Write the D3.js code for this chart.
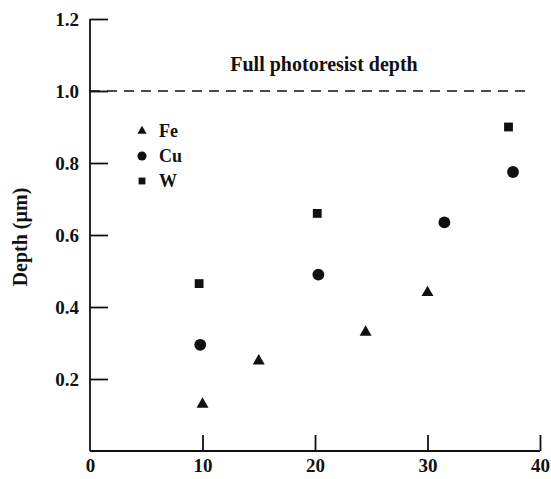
<!DOCTYPE html>
<html>
<head>
<meta charset="utf-8">
<script src="https://cdn.jsdelivr.net/npm/d3@7"></script>
<style>
  body { margin: 0; background: #fff; }
  text { font-family: "Liberation Serif", "DejaVu Serif", serif; font-weight: bold; fill: #111; }
</style>
</head>
<body>
<svg id="plot" width="551" height="479"></svg>
<script>
// data
var xTicks = [10, 20, 30, 40];
var yTicks = [0.2, 0.4, 0.6, 0.8, 1.0, 1.2];
var feX = [10, 15, 24.5, 30],   feY = [0.13, 0.25, 0.33, 0.44];
var cuX = [9.8, 20.3, 31.5, 37.6], cuY = [0.295, 0.49, 0.635, 0.775];
var wX  = [9.7, 20.2, 37.2],     wY  = [0.465, 0.66, 0.9];
var series = [
  {name: "Fe", sym: d3.symbolTriangle, size: 62, xs: feX, ys: feY},
  {name: "Cu", sym: d3.symbolCircle, size: 110, xs: cuX, ys: cuY},
  {name: "W",  sym: d3.symbolSquare, size: 78, xs: wX,  ys: wY}
];
var fullDepth = 1.0;

var svg = d3.select("#plot"),
    margin = {top: 19, right: 11, bottom: 28, left: 90},
    width = 551 - margin.left - margin.right,
    height = 479 - margin.top - margin.bottom,
    g = svg.append("g").attr("transform", "translate(" + margin.left + "," + margin.top + ")");

var x = d3.scaleLinear().domain([0, 40]).range([0, width]);
var y = d3.scaleLinear().domain([0, 1.2]).range([height, 0]);

// x axis, ticks pointing up into the plot
var xAxis = g.append("g")
  .attr("transform", "translate(0," + height + ")")
  .call(d3.axisBottom(x).tickValues([0].concat(xTicks)).tickSize(-16).tickPadding(5).tickFormat(d3.format("d")));
xAxis.selectAll("text").attr("dy", "0.85em").style("font-size", "19px");

// y axis, ticks pointing right
var yAxis = g.append("g")
  .call(d3.axisLeft(y).tickValues(yTicks).tickSize(-18).tickPadding(11).tickFormat(d3.format(".1f")));
yAxis.selectAll("text").style("font-size", "19px");

svg.selectAll(".domain, .tick line").attr("stroke", "#111").attr("stroke-width", 1.8);
xAxis.select(".domain").attr("d", "M0,0H" + width);
yAxis.select(".domain").attr("d", "M0," + height + "V0");
xAxis.selectAll(".tick").filter(function(d) { return d === 0; }).select("line").remove();

// dashed reference line
g.append("line")
  .attr("x1", 0).attr("x2", x(40) - 8)
  .attr("y1", y(fullDepth)).attr("y2", y(fullDepth))
  .attr("stroke", "#111").attr("stroke-width", 1.6)
  .attr("stroke-dasharray", "10,7");

g.append("text")
  .attr("x", x(20.8)).attr("y", y(fullDepth) - 20)
  .attr("text-anchor", "middle")
  .style("font-size", "20px")
  .text("Full photoresist depth");

// points
series.forEach(function(s) {
  var sym = d3.symbol().type(s.sym).size(s.size);
  g.selectAll(null).data(s.xs.map(function(v, i) { return [v, s.ys[i]]; }))
    .enter().append("path")
    .attr("d", sym)
    .attr("transform", function(d) { return "translate(" + x(d[0]) + "," + y(d[1]) + ")"; })
    .attr("fill", "#111");
});

// legend
var legend = g.append("g").attr("transform", "translate(" + 52 + "," + 112 + ")");
series.forEach(function(s, i) {
  var row = legend.append("g").attr("transform", "translate(0," + (i * 25) + ")");
  row.append("path").attr("d", d3.symbol().type(s.sym).size(s.size * 0.6)).attr("fill", "#111");
  row.append("text").attr("x", 17).attr("dy", "0.35em").style("font-size", "18px").text(s.name);
});

// y title
svg.append("text")
  .attr("transform", "translate(27," + 237 + ") rotate(-90)")
  .attr("text-anchor", "middle")
  .style("font-size", "20px")
  .text("Depth (µm)");
</script>
</body>
</html>
